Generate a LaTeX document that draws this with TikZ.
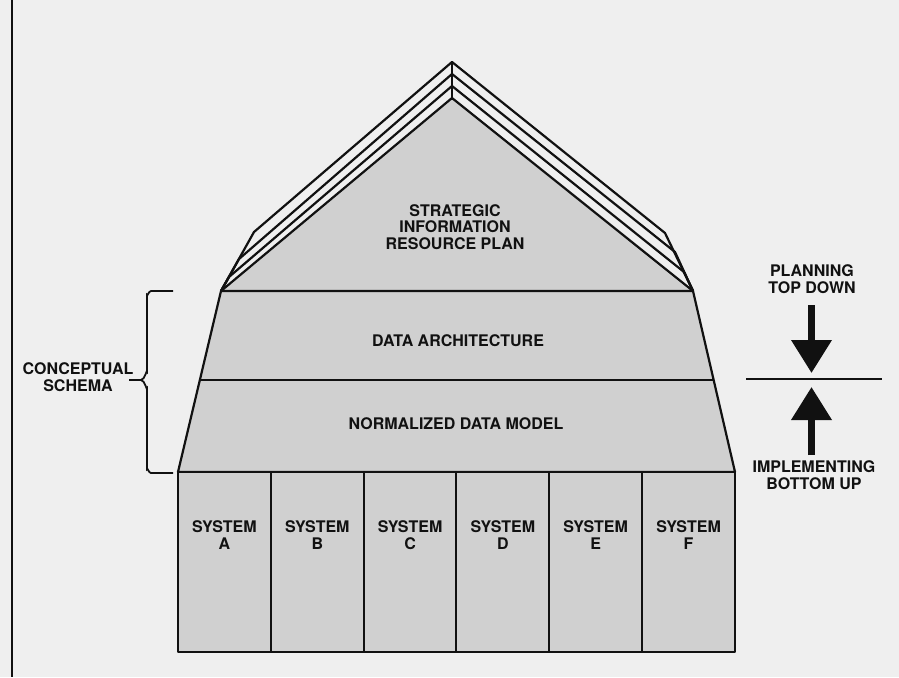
\documentclass[tikz,border=0pt]{standalone}
\usepackage{fontspec}
\setmainfont{TeX Gyre Heros}
\usetikzlibrary{arrows.meta}
\definecolor{SIRPaper}{HTML}{EFEFEF}
\definecolor{SIRShade}{HTML}{D0D0D0}
\definecolor{SIRInk}{HTML}{111111}
\tikzset{
  lbl/.style={font=\bfseries\fontsize{16}{16.5}\selectfont,align=center,text=SIRInk,inner sep=0pt},
  edge/.style={draw=SIRInk,line width=2.2pt,line join=round},
  bigarrow/.style={SIRInk,line width=7pt,-{Triangle[width=39pt,length=33pt]}}
}

\begin{document}
\begin{tikzpicture}[x=1pt,y=-1pt]
\path[use as bounding box,fill=SIRPaper] (0,0) rectangle (899,677);
\draw[SIRInk,line width=2pt] (12,0) -- (12,677);
\fill[SIRShade] (452,98) -- (693,291) -- (221,291) -- cycle;
\draw[edge] (221,291) -- (254,232) -- (452,62) -- (665,233) -- (693,291);
\draw[edge] (221,291) -- (239,259) -- (452,74) -- (675,252) -- (693,291);
\draw[edge] (221,291) -- (229,277) -- (452,86) -- (684,272) -- (693,291);
\draw[edge] (221,291) -- (452,98) -- (693,291);
\draw[edge] (452,62) -- (452,100);
\draw[edge,fill=SIRShade] (221,291) -- (693,291) -- (735,472) -- (178,472) -- cycle;
\draw[edge] (200,380) -- (714,380);
\draw[edge,fill=SIRShade] (178,472) rectangle (735,652);
\draw[edge] (271,472) -- (271,652);
\draw[edge] (364,472) -- (364,652);
\draw[edge] (456,472) -- (456,652);
\draw[edge] (549,472) -- (549,652);
\draw[edge] (642,472) -- (642,652);
\node[lbl] (strategic) at (455,227) {STRATEGIC\\INFORMATION\\RESOURCE PLAN};
\node[lbl] (dataarch) at (458,341) {DATA ARCHITECTURE};
\node[lbl] (normal) at (456,424) {NORMALIZED DATA MODEL};
\node[lbl] (sysA) at (224.4,535) {SYSTEM\\A};
\node[lbl] (sysB) at (317.3,535) {SYSTEM\\B};
\node[lbl] (sysC) at (410.1,535) {SYSTEM\\C};
\node[lbl] (sysD) at (502.9,535) {SYSTEM\\D};
\node[lbl] (sysE) at (595.7,535) {SYSTEM\\E};
\node[lbl] (sysF) at (688.6,535) {SYSTEM\\F};
\node[lbl] (concept) at (78,377) {CONCEPTUAL\\SCHEMA};
\coordinate (bracetip) at (129,380);
\coordinate (bracemid) at (141,380);
\draw[SIRInk,line width=1.8pt] (173,291) -- (151,291) to[out=180,in=-90] (147,295) -- (147,372) to[out=90,in=0] (bracemid) -- (bracetip);
\draw[SIRInk,line width=1.8pt] (bracemid) to[out=0,in=-90] (147,388) -- (147,469) to[out=90,in=180] (151,473) -- (173,473);
\node[lbl] (plan) at (812,279) {PLANNING\\TOP DOWN};
\node[lbl] (impl) at (814,475) {IMPLEMENTING\\BOTTOM UP};
\coordinate (divl) at (746,379);
\coordinate (divr) at (882,379);
\draw[SIRInk,line width=1.6pt] (divl) -- (divr);
\coordinate (downtop) at (811.5,305);
\coordinate (downtip) at (811.5,373);
\coordinate (upbot) at (811.5,455);
\coordinate (uptip) at (811.5,387);
\draw[bigarrow] (downtop) -- (downtip);
\draw[bigarrow] (upbot) -- (uptip);
\end{tikzpicture}
\end{document}
